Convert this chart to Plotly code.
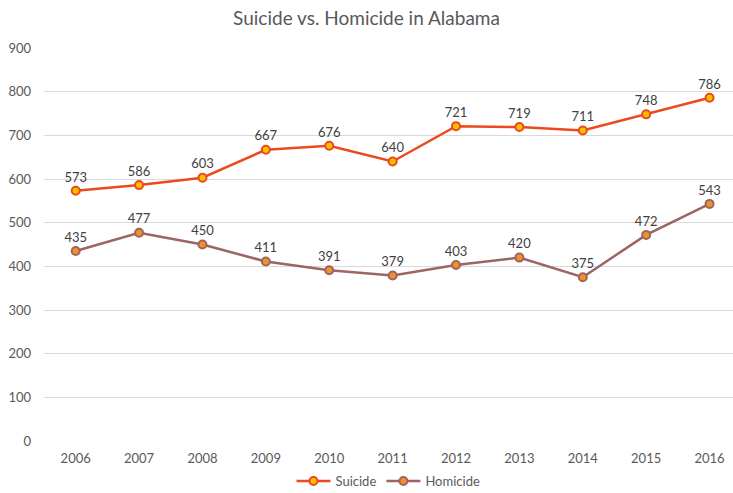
import plotly.graph_objects as go

years = ["2006", "2007", "2008", "2009", "2010", "2011", "2012", "2013", "2014", "2015", "2016"]
suicide = [573, 586, 603, 667, 676, 640, 721, 719, 711, 748, 786]
homicide = [435, 477, 450, 411, 391, 379, 403, 420, 375, 472, 543]
y_ticks = [0, 100, 200, 300, 400, 500, 600, 700, 800, 900]

FONT = "Lato, 'Open Sans', sans-serif"
SUICIDE_LINE = "#EC4A1C"
SUICIDE_FILL = "#FFC000"
HOMICIDE_LINE = "#9C6464"
HOMICIDE_FILL = "#F39224"

fig = go.Figure()
fig.add_trace(go.Scatter(
    x=years, y=suicide, name="Suicide", mode="lines+markers+text",
    line=dict(color=SUICIDE_LINE, width=2.5),
    marker=dict(size=8, color=SUICIDE_FILL, line=dict(color=SUICIDE_LINE, width=2)),
    text=[str(v) for v in suicide], textposition="top center",
    textfont=dict(family=FONT, size=13, color="#404040"),
))
fig.add_trace(go.Scatter(
    x=years, y=homicide, name="Homicide", mode="lines+markers+text",
    line=dict(color=HOMICIDE_LINE, width=2.5),
    marker=dict(size=8, color=HOMICIDE_FILL, line=dict(color=HOMICIDE_LINE, width=2)),
    text=[str(v) for v in homicide], textposition="top center",
    textfont=dict(family=FONT, size=13, color="#404040"),
))

fig.update_layout(
    width=733, height=493,
    margin=dict(l=44, r=0, t=48, b=52, autoexpand=False),
    paper_bgcolor="white", plot_bgcolor="white",
    font=dict(family=FONT, color="#595959", size=13),
    title=dict(text="Suicide vs. Homicide in Alabama", x=0.5, xanchor="center",
               y=1 - 18 / 493, yanchor="middle",
               font=dict(family=FONT, size=19, color="#595959")),
    showlegend=True,
    legend=dict(orientation="h", x=0.5, xanchor="center", y=-55 / 393, yanchor="bottom",
                font=dict(family=FONT, size=13, color="#595959"), itemwidth=34,
                bgcolor="rgba(0,0,0,0)"),
    xaxis=dict(type="category", range=[-0.5, 10.37], showgrid=False, zeroline=False,
               showline=False, ticks="", ticklabelstandoff=8,
               tickfont=dict(family=FONT, size=13, color="#595959")),
    yaxis=dict(range=[0, 900], tickvals=y_ticks, showgrid=True, gridcolor="#D9D9D9",
               gridwidth=1, zeroline=False, showline=False, ticks="", ticklabelstandoff=12,
               tickfont=dict(family=FONT, size=13, color="#595959")),
)

fig.write_html("out.html")
